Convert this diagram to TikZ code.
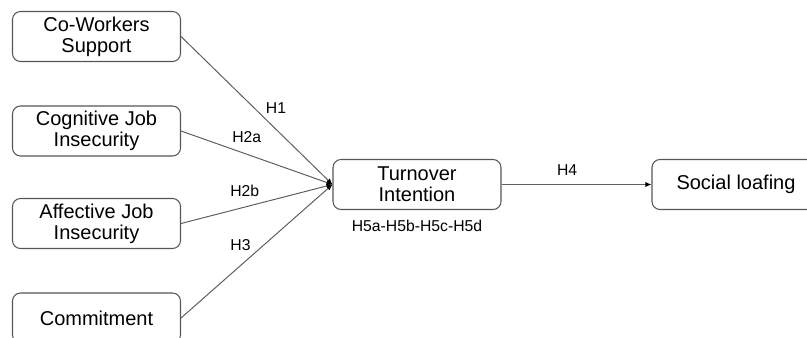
\documentclass[tikz,border=0pt]{standalone}
\usepackage{fontspec}
\setmainfont{Liberation Sans}
\usetikzlibrary{arrows.meta, positioning}
\definecolor{edgegray}{RGB}{85, 85, 85}
\definecolor{linegray}{RGB}{95, 95, 95}

\begin{document}
\begin{tikzpicture}[
    x=0.75pt, y=-0.75pt,
    box/.style={rectangle, rounded corners=6pt, draw=edgegray, line width=0.8pt, minimum width=126pt, minimum height=37.5pt, align=center, font=\fontsize{15}{16}\selectfont},
    hyp/.style={font=\fontsize{11.8}{13}\selectfont},
    arrow/.style={-{Latex[length=4.5pt, width=3.8pt, color=black]}, draw=linegray, line width=0.75pt}
]
    \useasboundingbox (0, 0) rectangle (807, 338);

    % Column 1: antecedents
    \node[box] (support) at (96.5, 36.5) {Co-Workers\\Support};
    \node[box] (cognitive) at (96.5, 131) {Cognitive Job\\Insecurity};
    \node[box] (affective) at (96.5, 223.5) {Affective Job\\Insecurity};
    \node[box] (commit) at (96.5, 318) {Commitment};

    % Column 2: mediator
    \node[box] (turnover) at (417, 184.5) {Turnover\\Intention};
    \node[hyp, below=4pt of turnover] (mediation) {H5a-H5b-H5c-H5d};

    % Column 3: outcome
    \node[box] (loafing) at (736, 184.5) {Social loafing};

    % Arrows
    \draw[arrow] (support.east) -- node[hyp, pos=0.54, anchor=south west, inner sep=2pt] {H1} (turnover.west);
    \draw[arrow] (cognitive.east) -- node[hyp, pos=0.434, above=5pt] {H2a} (turnover.west);
    \draw[arrow] (affective.east) -- node[hyp, pos=0.421, above=4pt] {H2b} (turnover.west);
    \draw[arrow] (commit.east) -- node[hyp, pos=0.48, anchor=south east, inner sep=2pt] {H3} (turnover.west);
    \draw[arrow] (turnover) -- node[hyp, pos=0.437, above=3pt] {H4} (loafing);
\end{tikzpicture}
\end{document}
